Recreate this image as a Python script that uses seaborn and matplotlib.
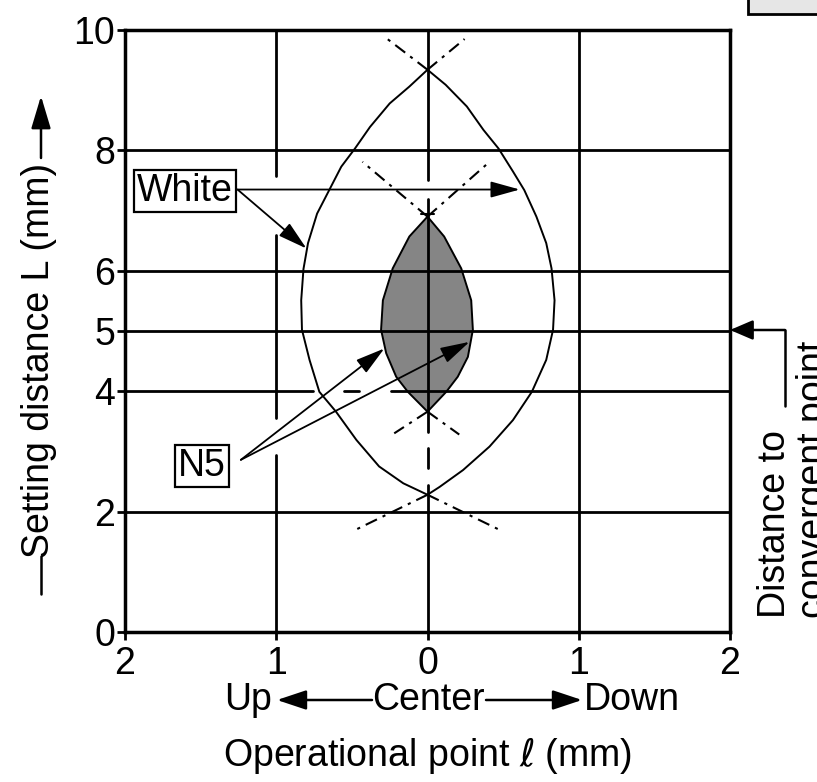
import numpy as np
import pandas as pd
import seaborn as sns
import matplotlib.pyplot as plt
from matplotlib.lines import Line2D
from matplotlib.patches import Rectangle

# operating range for "White" target: left / right edge (x = operational point mm, y = L mm)
white_left_x = [0, -0.12, -0.25, -0.38, -0.48, -0.57, -0.65, -0.73, -0.79, -0.82,
                -0.835, -0.83, -0.78, -0.715, -0.605, -0.47, -0.32, -0.16, 0]
white_left_y = [9.34, 9.06, 8.78, 8.39, 8.03, 7.73, 7.34, 6.95, 6.46, 6.03,
                5.51, 5.02, 4.52, 3.99, 3.66, 3.19, 2.75, 2.47, 2.28]
white_right_x = [0, 0.12, 0.26, 0.37, 0.47, 0.565, 0.64, 0.72, 0.785, 0.82,
                 0.84, 0.83, 0.785, 0.69, 0.565, 0.41, 0.235, 0.08, 0]
white_right_y = [9.34, 9.09, 8.73, 8.34, 8.03, 7.65, 7.34, 6.90, 6.46, 6.04,
                 5.51, 5.02, 4.52, 3.99, 3.52, 3.08, 2.69, 2.41, 2.28]

# operating range for "N5" target (grey area)
n5_left_x = [0, -0.12, -0.23, -0.295, -0.307, -0.273, -0.207, -0.13, 0]
n5_left_y = [6.90, 6.57, 6.04, 5.51, 5.02, 4.63, 4.24, 3.99, 3.66]
n5_right_x = [0, 0.11, 0.223, 0.289, 0.30, 0.267, 0.20, 0.124, 0]
n5_right_y = [6.90, 6.57, 6.04, 5.51, 5.02, 4.57, 4.24, 3.99, 3.66]

# dash-dot continuations past the crossing points: (crossing, end)
ext_lines = [
    ((0, 9.34), (-0.27, 9.86)), ((0, 9.34), (0.245, 9.85)),
    ((0, 2.28), (-0.49, 1.68)), ((0, 2.28), (0.49, 1.68)),
    ((0, 6.90), (-0.43, 7.81)), ((0, 6.90), (0.41, 7.81)),
    ((0, 3.66), (-0.22, 3.30)), ((0, 3.66), (0.21, 3.28)),
]

x_ticks = [-2, -1, 0, 1, 2]
x_ticklabels = ['2', '1', '0', '1', '2']
y_ticks = [0, 2, 4, 5, 6, 8, 10]

# grid lines, broken where the drawing leaves gaps
vgrid = {-1: [(10, 7.57), (6.59, 3.55), (2.94, 0)],
         0: [(10, 7.51), (7.20, 3.33), (2.44, 0)],
         1: [(10, 0)]}
hgrid = {2: [(-2, 2)], 4: [(-2, -0.76), (-0.24, 2)], 5: [(-2, 2)],
         6: [(-2, 2)], 8: [(-2, 2)]}
dashed_bits = [((0, 3.06), (0, 2.72)), ((-0.55, 4), (-0.45, 4))]

W, H = 817, 782
FS = 27

sns.set_theme(style='white', rc={'text.color': 'black'})
plt.rcParams['font.family'] = ['Liberation Sans', 'DejaVu Sans']
plt.rcParams['mathtext.fontset'] = 'dejavusans'

fig = plt.figure(figsize=(W / 100, H / 100), dpi=100)
ax = fig.add_axes([125 / W, 1 - 632 / H, 605 / W, 602 / H])

# grey N5 area
poly_x = n5_left_x + n5_right_x[::-1]
poly_y = n5_left_y + n5_right_y[::-1]
ax.fill(poly_x, poly_y, color='#858585', zorder=1, lw=0)

for x0, segs in vgrid.items():
    for y1, y2 in segs:
        ax.plot([x0, x0], [y1, y2], color='black', lw=2, zorder=2)
for y0, segs in hgrid.items():
    for x1, x2 in segs:
        ax.plot([x1, x2], [y0, y0], color='black', lw=2, zorder=2)
for (x1, y1), (x2, y2) in dashed_bits:
    ax.plot([x1, x2], [y1, y2], color='black', lw=2, zorder=2)
ax.plot([-0.045, 0.045], [6.95, 6.95], color='black', lw=1.5, zorder=2)

curves = pd.concat([
    pd.DataFrame({'x': white_left_x, 'y': white_left_y, 'edge': 'wl'}),
    pd.DataFrame({'x': white_right_x, 'y': white_right_y, 'edge': 'wr'}),
    pd.DataFrame({'x': n5_left_x, 'y': n5_left_y, 'edge': 'nl'}),
    pd.DataFrame({'x': n5_right_x, 'y': n5_right_y, 'edge': 'nr'}),
])
sns.lineplot(data=curves, x='x', y='y', units='edge', estimator=None, sort=False,
             color='black', lw=1.4, ax=ax, zorder=3)

for (x1, y1), (x2, y2) in ext_lines:
    ax.plot([x1, x2], [y1, y2], color='black', lw=1.5,
            linestyle=(0, (6, 3, 1.5, 3)), zorder=3)

ax.set_xlim(-2, 2)
ax.set_ylim(0, 10)
ax.set_xticks(x_ticks)
ax.set_xticklabels(x_ticklabels)
ax.set_yticks(y_ticks)
ax.set_xlabel('')
ax.set_ylabel('')
ax.tick_params(axis='both', which='both', direction='out', length=6, width=2,
               labelsize=FS, color='black', labelcolor='black')
ax.tick_params(axis='x', pad=4, bottom=True)
ax.tick_params(axis='y', pad=1, left=True)
for sp in ax.spines.values():
    sp.set_linewidth(2.5)
    sp.set_color('black')

# callout boxes
box = dict(boxstyle='square,pad=0.08', fc='white', ec='black', lw=1.6)
head = dict(arrowstyle='-|>,head_length=0.9,head_width=0.25', color='black',
            lw=1.3, shrinkA=0, shrinkB=0, mutation_scale=20)
ax.text(-1.604, 7.33, 'White', ha='center', va='center', fontsize=FS, bbox=box, zorder=5)
ax.annotate('', xy=(0.61, 7.35), xytext=(-1.256, 7.35), arrowprops=head, zorder=4)
ax.annotate('', xy=(-0.80, 6.37), xytext=(-1.256, 7.35), arrowprops=head, zorder=4)
ax.text(-1.493, 2.76, 'N5', ha='center', va='center', fontsize=FS, bbox=box, zorder=5)
ax.annotate('', xy=(-0.285, 4.71), xytext=(-1.234, 2.86), arrowprops=head, zorder=4)
ax.annotate('', xy=(0.278, 4.82), xytext=(-1.234, 2.86), arrowprops=head, zorder=4)

# y axis label with arrow
fig.text(39 / W, 1 - 360 / H, 'Setting distance L (mm)', rotation=90,
         ha='center', va='center', fontsize=FS)
fig.add_artist(Line2D([41 / W, 41 / W], [1 - 556 / H, 1 - 594 / H],
                      transform=fig.transFigure, color='black', lw=1.8))
ax.annotate('', xy=(41, H - 96), xytext=(41, H - 158), xycoords='figure pixels',
            textcoords='figure pixels',
            arrowprops=dict(arrowstyle='-|>,head_length=1.0,head_width=0.3',
                            color='black', lw=1.8, shrinkA=0, shrinkB=0,
                            mutation_scale=20), annotation_clip=False)

# x axis direction row + label
fig.text(248 / W, 1 - 700 / H, 'Up', ha='center', va='center', fontsize=FS)
fig.text(428 / W, 1 - 700 / H, 'Center', ha='center', va='center', fontsize=FS)
fig.text(584 / W, 1 - 700 / H, 'Down', ha='left', va='center', fontsize=FS)
row_arrow = dict(arrowstyle='-|>,head_length=0.9,head_width=0.3', color='black',
                 lw=1.8, shrinkA=0, shrinkB=0, mutation_scale=20)
ax.annotate('', xy=(277, H - 700), xytext=(372, H - 700), xycoords='figure pixels',
            textcoords='figure pixels', arrowprops=row_arrow, annotation_clip=False)
ax.annotate('', xy=(582, H - 700), xytext=(486, H - 700), xycoords='figure pixels',
            textcoords='figure pixels', arrowprops=row_arrow, annotation_clip=False)
fig.text(428 / W, 1 - 755 / H, r'Operational point $\ell$ (mm)', ha='center',
         va='center', fontsize=FS)

# convergent point marker on the right
ax.annotate('', xy=(730, H - 330), xytext=(785, H - 330), xycoords='figure pixels',
            textcoords='figure pixels',
            arrowprops=dict(arrowstyle='-|>,head_length=0.7,head_width=0.3',
                            color='black', lw=1.8, shrinkA=0, shrinkB=0,
                            mutation_scale=20), annotation_clip=False)
fig.add_artist(Line2D([785 / W, 785 / W], [1 - 330 / H, 1 - 406 / H],
                      transform=fig.transFigure, color='black', lw=1.8))
fig.text(757 / W, 1 - 618 / H, 'Distance to\nconvergent point', rotation=90,
         ha='left', va='bottom', fontsize=FS, linespacing=1.1)

# partially visible box at top right
fig.add_artist(Rectangle((748 / W, 1 - 14 / H), 0.2, 0.1, transform=fig.transFigure,
                         fc='#e6e6e6', ec='black', lw=2))

fig.savefig('out.png', dpi=100)
